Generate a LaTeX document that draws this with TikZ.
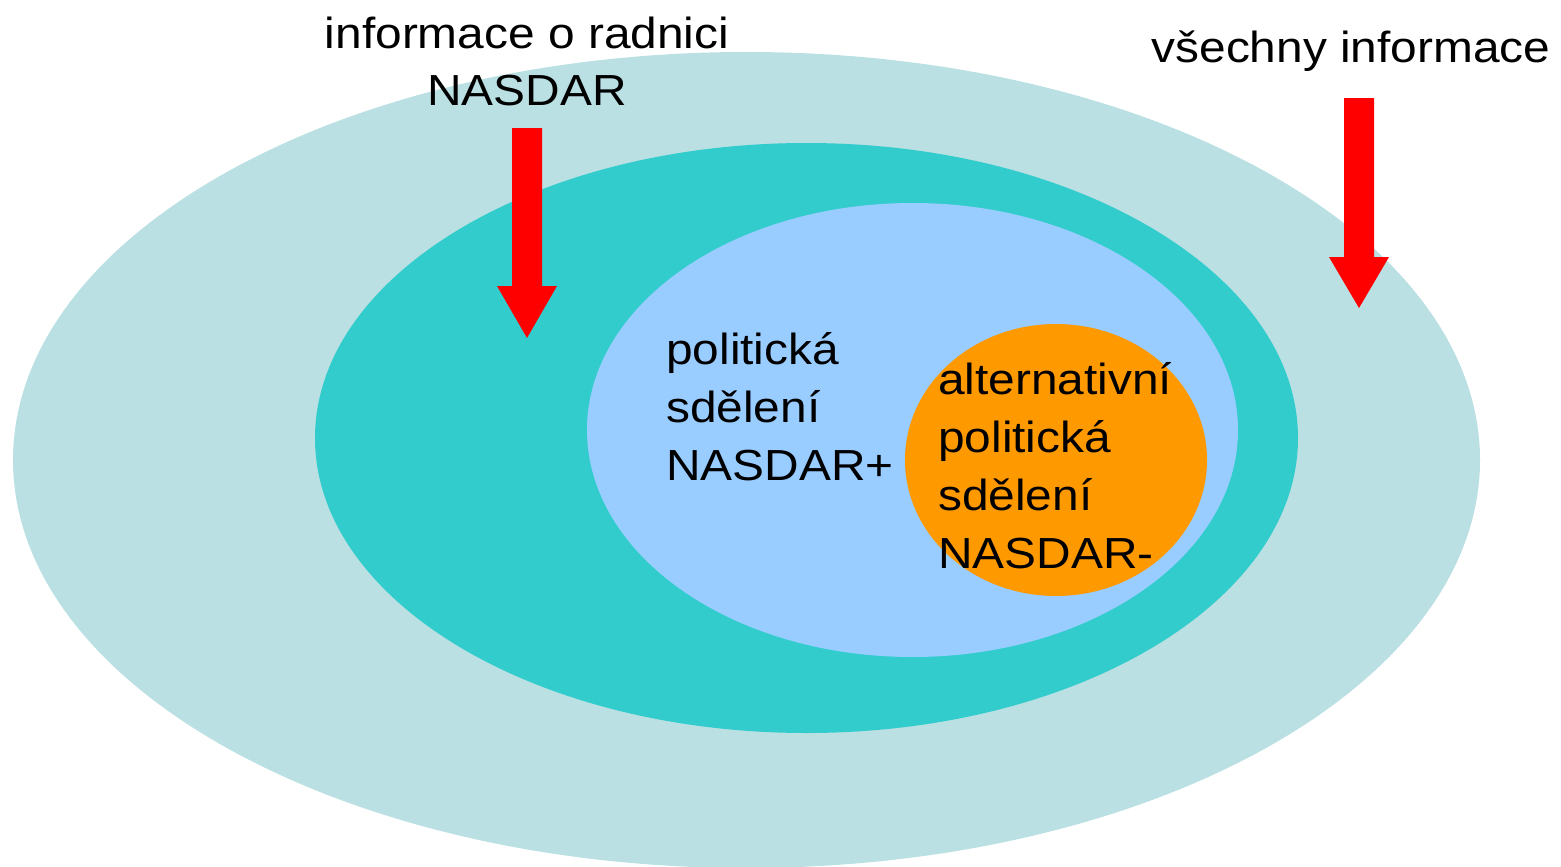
\documentclass[tikz,border=0pt]{standalone}
\usepackage{fontspec}
\setmainfont[FakeStretch=1.1]{Liberation Sans}
\usetikzlibrary{shapes.geometric}
\definecolor{outerc}{HTML}{BAE0E3}
\definecolor{tealc}{HTML}{33CCCC}
\definecolor{bluec}{HTML}{99CCFF}
\definecolor{orangec}{HTML}{FF9900}
\definecolor{arrowc}{HTML}{FF0000}
\tikzset{
  blob/.style={ellipse, inner sep=0pt, draw=none},
  lbl/.style={inner sep=0pt, text=black, font=\fontsize{43.5}{58}\selectfont},
  blockarrow/.style={fill=arrowc, draw=none}
}
\begin{document}
\begin{tikzpicture}[x=1pt,y=-1pt]
\useasboundingbox (0,0) rectangle (1561,867);
\node[blob, fill=outerc, minimum width=1467pt, minimum height=816pt] (outer) at (746.5,460) {};
\node[blob, fill=tealc, minimum width=983pt, minimum height=590pt] (mid) at (806.5,438) {};
\node[blob, fill=bluec, minimum width=651pt, minimum height=454pt] (inner) at (912.5,430) {};
\node[blob, fill=orangec, minimum width=302pt, minimum height=272pt] (core) at (1056,460) {};
% arrows
\fill[blockarrow] (512,128) -- (542,128) -- (542,286) -- (557,286) -- (527,338) -- (497,286) -- (512,286) -- cycle;
\fill[blockarrow] (1344,98) -- (1374,98) -- (1374,257) -- (1389,257) -- (1359,308) -- (1329,257) -- (1344,257) -- cycle;
% labels (anchor base = baseline of the last line)
\node[lbl, align=center, anchor=base] (radnice) at (527,106) {informace o radnici\\NASDAR};
\node[lbl, anchor=base] (vse) at (1351,63) {všechny informace};
\node[lbl, align=left, anchor=base west] (plus) at (666,480) {politická\\sdělení\\NASDAR+};
\node[lbl, align=left, anchor=base west] (minus) at (938,568) {alternativní\\politická\\sdělení\\NASDAR-};
\end{tikzpicture}
\end{document}
